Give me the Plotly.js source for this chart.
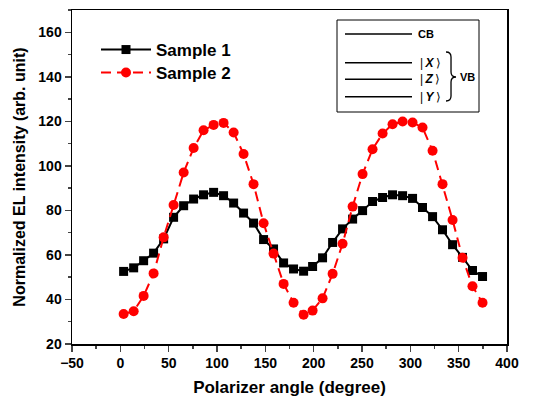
<!DOCTYPE html>
<html><head><meta charset="utf-8">
<script src="https://cdn.plot.ly/plotly-3.0.1.min.js"></script>
<style>body{margin:0;background:#fff}</style>
</head><body><div id="chart" style="width:539px;height:403px"></div>
<script>
const angle = [3.4, 13.8, 24.1, 34.4, 44.8, 55.1, 65.5, 75.8, 86.1, 96.5, 106.8, 117.2, 127.5, 137.8, 148.2, 158.5, 168.9, 179.2, 189.6, 198.9, 209.2, 219.6, 229.9, 240.3, 250.6, 260.9, 271.3, 281.6, 292.0, 302.3, 312.6, 323.0, 333.3, 343.7, 354.0, 364.3, 374.7];
const sample1 = [52.6, 54.2, 57.4, 60.8, 67.2, 76.9, 82.1, 85.1, 87.0, 88.1, 86.6, 83.3, 78.8, 74.3, 66.9, 62.7, 56.4, 53.7, 52.7, 54.8, 58.7, 65.6, 71.7, 76.1, 79.9, 84.0, 85.8, 87.0, 86.6, 85.4, 81.3, 77.2, 71.3, 64.6, 58.9, 53.0, 50.3];
const sample2 = [33.5, 34.7, 41.6, 51.7, 67.9, 82.4, 97.0, 108.0, 116.0, 118.4, 119.3, 115.0, 105.3, 91.8, 74.2, 60.6, 47.0, 38.5, 33.1, 35.0, 40.5, 51.5, 65.0, 81.7, 96.3, 107.5, 114.5, 118.7, 119.9, 119.5, 117.2, 106.8, 91.8, 75.7, 58.7, 45.9, 38.5];
const seriesNames = ["Sample 1", "Sample 2"];
const xTicks = [-50, 0, 50, 100, 150, 200, 250, 300, 350, 400];
const yTicks = [20, 40, 60, 80, 100, 120, 140, 160];
const levelLabels = ["CB", "|\u2009<b><i>X</i></b>\u2009\u27E9", "|\u2009<b><i>Z</i></b>\u2009\u27E9", "|\u2009<b><i>Y</i></b>\u2009\u27E9"];
const bandLabel = "VB";

// plot area in pixels: x 72..507, y 10..344
const L = 72, R = 507, T = 10, B = 344;
const px = v => (v - L) / (R - L);
const py = v => (B - v) / (B - T);

const FONT = "Liberation Sans, Arial, sans-serif";

const traces = [
  {x: angle, y: sample1, name: "<b>" + seriesNames[0] + "</b>", type: "scatter", mode: "lines+markers",
   line: {color: "#000000", width: 2},
   marker: {symbol: "square", size: 9, color: "#000000"}, legend: "legend"},
  {x: angle, y: sample2, name: "<b>" + seriesNames[1] + "</b>", type: "scatter", mode: "lines+markers",
   line: {color: "#ff0000", width: 2, dash: "10px,6px"},
   marker: {symbol: "circle", size: 10, color: "#ff0000"}, legend: "legend2"}
];

const levelY = [34, 62.7, 79.3, 96.7];
const shapes = [
  {type: "rect", xref: "paper", yref: "paper", x0: px(337), x1: px(479), y0: py(112), y1: py(20),
   line: {color: "#000", width: 1}, fillcolor: "rgba(0,0,0,0)"}
];
levelY.forEach(v => shapes.push({type: "line", xref: "paper", yref: "paper",
  x0: px(345), x1: px(412), y0: py(v), y1: py(v), line: {color: "#000", width: 1.5}}));
const bp = (x, y) => px(x).toFixed(4) + "," + py(y).toFixed(4);
shapes.push({type: "path", xref: "paper", yref: "paper", line: {color: "#000", width: 1.3},
  path: "M" + bp(446, 52) + " Q" + bp(451, 52) + " " + bp(451, 57) + " L" + bp(451, 72) +
        " Q" + bp(451, 77) + " " + bp(456, 77) + " Q" + bp(451, 77) + " " + bp(451, 82) +
        " L" + bp(451, 96) + " Q" + bp(451, 101) + " " + bp(446, 101)});

const annotations = [];
levelLabels.forEach((t, i) => annotations.push({xref: "paper", yref: "paper",
  x: px(i === 0 ? 416 : 418), y: py(levelY[i]), xanchor: "left", yanchor: "middle",
  text: i === 0 ? "<b>" + t + "</b>" : t, showarrow: false,
  font: {family: FONT, size: i === 0 ? 11 : 12, color: "#000"}}));
annotations.push({xref: "paper", yref: "paper", x: px(458), y: py(77), xanchor: "left", yanchor: "middle",
  text: "<b>" + bandLabel + "</b>", showarrow: false, font: {family: FONT, size: 11, color: "#000"}});

const legendBase = {x: px(96), xanchor: "left", yanchor: "middle", bgcolor: "rgba(0,0,0,0)",
  font: {family: FONT, size: 17, color: "#000"}, itemwidth: 50, tracegroupgap: 0};

const layout = {
  width: 539, height: 403,
  margin: {l: L, r: 539 - R, t: T, b: 403 - B},
  paper_bgcolor: "#fff", plot_bgcolor: "#fff",
  font: {family: FONT, color: "#000"},
  showlegend: true,
  legend: Object.assign({}, legendBase, {y: py(50)}),
  legend2: Object.assign({}, legendBase, {y: py(73)}),
  xaxis: {range: [-50, 400], tickvals: xTicks, ticks: "outside", ticklen: 6, tickwidth: 1.5,
          showline: true, linewidth: 1.5, linecolor: "#000", mirror: true, showgrid: false, zeroline: false,
          tickfont: {family: FONT, size: 14, weight: "bold"},
          minor: {dtick: 25, tick0: -50, ticks: "outside", ticklen: 3, tickwidth: 1.5, showgrid: false},
          title: {text: "<b>Polarizer angle (degree)</b>", font: {family: FONT, size: 17}, standoff: 11}},
  yaxis: {range: [20, 170], tickvals: yTicks, ticks: "outside", ticklen: 6, tickwidth: 1.5,
          showline: true, linewidth: 1.5, linecolor: "#000", mirror: true, showgrid: false, zeroline: false,
          tickfont: {family: FONT, size: 14, weight: "bold"},
          minor: {dtick: 10, tick0: 20, ticks: "outside", ticklen: 3, tickwidth: 1.5, showgrid: false},
          title: {text: "<b>Normalized EL intensity (arb. unit)</b>", font: {family: FONT, size: 16}, standoff: 8}},
  shapes: shapes,
  annotations: annotations
};

Plotly.newPlot("chart", traces, layout, {displayModeBar: false, staticPlot: true});
</script>
</body></html>
